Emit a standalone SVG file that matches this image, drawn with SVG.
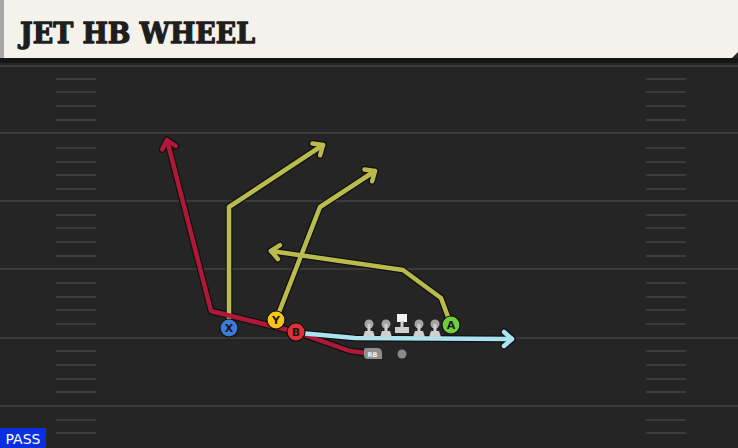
<svg xmlns="http://www.w3.org/2000/svg" width="738" height="448" viewBox="0 0 738 448">
<style>
.yard{stroke:#3a3a3a;stroke-width:2}
.hash{stroke:#3c3c3c;stroke-width:2}
.out{fill:none;stroke:#111;stroke-width:7;stroke-linejoin:round;stroke-linecap:round}
.rt{fill:none;stroke-width:4.5;stroke-linejoin:round;stroke-linecap:round}
.ylw{stroke:#b9bb4d}
.red{stroke:#b0183a}
.blu{stroke:#a9e4f0}
.lbl{font-family:"DejaVu Sans",sans-serif;font-weight:bold;font-size:11px;fill:#1a1a1a;text-anchor:middle}
.ol{fill:#cfcfcf}
.olh{fill:#a5a5a5}
</style>
<defs>
<marker id="mY" markerUnits="userSpaceOnUse" viewBox="-12 -10 16 20" refX="0" refY="0" markerWidth="16" markerHeight="20" orient="auto" overflow="visible"><path d="M-8,-7 L0,0 L-8,7" fill="none" stroke="#b9bb4d" stroke-width="4.5" stroke-linecap="round" stroke-linejoin="round"/></marker>
<marker id="mR" markerUnits="userSpaceOnUse" viewBox="-12 -10 16 20" refX="0" refY="0" markerWidth="16" markerHeight="20" orient="auto" overflow="visible"><path d="M-8,-7 L0,0 L-8,7" fill="none" stroke="#b0183a" stroke-width="4.5" stroke-linecap="round" stroke-linejoin="round"/></marker>
<marker id="mB" markerUnits="userSpaceOnUse" viewBox="-12 -10 16 20" refX="0" refY="0" markerWidth="16" markerHeight="20" orient="auto" overflow="visible"><path d="M-8,-7 L0,0 L-8,7" fill="none" stroke="#a9e4f0" stroke-width="4.5" stroke-linecap="round" stroke-linejoin="round"/></marker>
<marker id="mK" markerUnits="userSpaceOnUse" viewBox="-12 -10 16 20" refX="0" refY="0" markerWidth="16" markerHeight="20" orient="auto" overflow="visible"><path d="M-8,-7 L0,0 L-8,7" fill="none" stroke="#111" stroke-width="7" stroke-linecap="round" stroke-linejoin="round"/></marker>
</defs>
<rect x="0" y="0" width="738" height="448" fill="#252525"/>
<g id="field">
<line class="yard" x1="0" y1="66" x2="738" y2="66"/>
<line class="yard" x1="0" y1="133" x2="738" y2="133"/>
<line class="yard" x1="0" y1="201" x2="738" y2="201"/>
<line class="yard" x1="0" y1="269" x2="738" y2="269"/>
<line class="yard" x1="0" y1="338" x2="738" y2="338"/>
<line class="yard" x1="0" y1="406" x2="738" y2="406"/>
<path class="hash" d="M56,79H96M56,92H96M56,106H96M56,120H96M56,148H96M56,162H96M56,175H96M56,189H96M56,215H96M56,228H96M56,242H96M56,256H96M56,283H96M56,297H96M56,310H96M56,324H96M56,351H96M56,365H96M56,379H96M56,392H96M56,420H96M56,433H96"/>
<path class="hash" d="M646,79H686M646,92H686M646,106H686M646,120H686M646,148H686M646,162H686M646,175H686M646,189H686M646,215H686M646,228H686M646,242H686M646,256H686M646,283H686M646,297H686M646,310H686M646,324H686M646,351H686M646,365H686M646,379H686M646,392H686M646,420H686M646,433H686"/>
</g>
<g id="header">
<rect x="0" y="58" width="738" height="5" fill="#151515"/>
<path d="M0,0 H738 V52 L732,58 H0 Z" fill="#f5f2ec"/>
<rect x="0" y="0" width="4" height="58" fill="#a8a8a8"/>
<text x="20" y="43" font-family="'DejaVu Serif',serif" font-weight="bold" font-size="28" textLength="235" lengthAdjust="spacingAndGlyphs" fill="#1e1e1e" stroke="#1e1e1e" stroke-width="1.3" stroke-linejoin="round">JET HB WHEEL</text>
</g>
<g id="connectors">
<path class="out" d="M229,328 V207 L323,145" marker-end="url(#mK)"/>
<path class="out" d="M276,320 L320,207 L375,171" marker-end="url(#mK)"/>
<path class="out" d="M451,325 L441,298 L403,270 L271,251" marker-end="url(#mK)"/>
<path class="out" d="M366,353 L350,351 L296,332 L211,311 L167,140" marker-end="url(#mK)"/>
<path class="out" d="M300,333 L355,338 L512,339" marker-end="url(#mK)"/>
<path class="rt ylw" d="M229,328 V207 L323,145" marker-end="url(#mY)"/>
<path class="rt ylw" d="M276,320 L320,207 L375,171" marker-end="url(#mY)"/>
<path class="rt ylw" d="M451,325 L441,298 L403,270 L271,251" marker-end="url(#mY)"/>
<path class="rt red" d="M366,353 L350,351 L296,332 L211,311 L167,140" marker-end="url(#mR)"/>
<path class="rt blu" d="M300,333 L355,338 L512,339" marker-end="url(#mB)"/>
</g>
<g id="line">
<g id="lt"><circle cx="369" cy="324" r="4.5" class="olh"/><rect x="367.5" y="324" width="3" height="7" class="ol"/><path d="M365,331 H373 L375,337 H363 Z" class="ol"/></g>
<g id="lg"><circle cx="386" cy="324" r="4.5" class="olh"/><rect x="384.5" y="324" width="3" height="7" class="ol"/><path d="M382,331 H390 L392,337 H380 Z" class="ol"/></g>
<g id="c"><rect x="397" y="314" width="10" height="8" fill="#f2f2f2"/><rect x="400.5" y="321" width="3" height="7" class="ol"/><rect x="395" y="327" width="14" height="6" class="ol"/></g>
<g id="rg"><circle cx="419" cy="324" r="4.5" class="olh"/><rect x="417.5" y="324" width="3" height="7" class="ol"/><path d="M415,331 H423 L425,337 H413 Z" class="ol"/></g>
<g id="rt"><circle cx="435" cy="324" r="4.5" class="olh"/><rect x="433.5" y="324" width="3" height="7" class="ol"/><path d="M431,331 H439 L441,337 H429 Z" class="ol"/></g>
</g>
<g id="X"><circle cx="229" cy="328" r="9" fill="#3d7bd8" stroke="#111" stroke-width="1.2"/><text class="lbl" x="229" y="332">X</text></g>
<g id="Y"><circle cx="276" cy="320" r="9" fill="#f5c518" stroke="#111" stroke-width="1.2"/><text class="lbl" x="276" y="324">Y</text></g>
<g id="B"><circle cx="296" cy="332" r="9" fill="#e0303a" stroke="#111" stroke-width="1.2"/><text class="lbl" x="296" y="336">B</text></g>
<g id="A"><circle cx="451" cy="325" r="9" fill="#6fcf3a" stroke="#111" stroke-width="1.2"/><text class="lbl" x="451" y="329">A</text></g>
<g id="RB"><path d="M366,348 H377 Q382,348 382,353 V359 H368 Q364,359 364,355 V350 Q364,348 366,348 Z" fill="#8f8f8f"/><text x="372.5" y="357" font-family="'DejaVu Sans',sans-serif" font-weight="bold" font-size="6.5" fill="#f0f0f0" text-anchor="middle">RB</text></g>
<g id="QB"><circle cx="402" cy="354" r="4.5" fill="#8a8a8a"/></g>
<g id="pass"><rect x="0" y="428" width="46" height="20" fill="#0a2ee0"/><text x="23" y="444" font-family="'DejaVu Sans',sans-serif" font-size="14" fill="#ffffff" text-anchor="middle">PASS</text></g>
</svg>
